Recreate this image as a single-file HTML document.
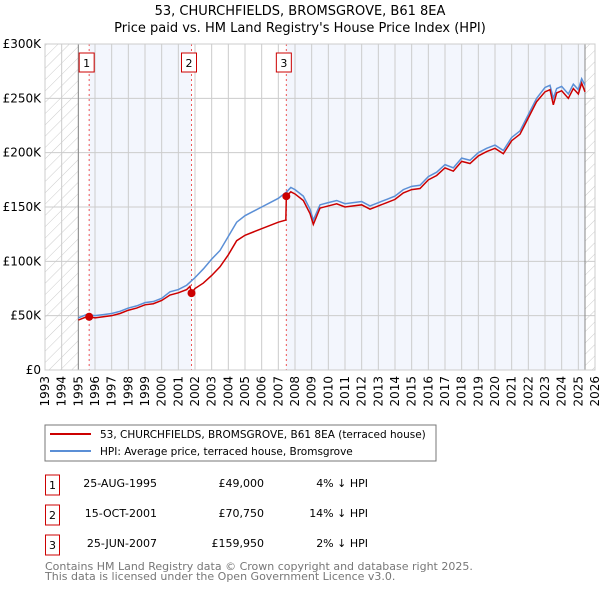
<!DOCTYPE html>
<html><head><meta charset="utf-8"><style>
body{margin:0;background:#fff;font-family:"Liberation Sans","DejaVu Sans",sans-serif;}
svg{display:block}
text{font-family:"DejaVu Sans","Liberation Sans",sans-serif;}
</style></head><body>
<svg id="c" width="600" height="590" viewBox="0 0 600 590">
<defs><pattern id="h" width="8" height="8" patternUnits="userSpaceOnUse" patternTransform="rotate(45)"><line x1="0" y1="0" x2="0" y2="8" stroke="#ccc" stroke-width="1"/></pattern></defs>
<text x="300" y="15" text-anchor="middle" font-size="13">53, CHURCHFIELDS, BROMSGROVE, B61 8EA</text>
<text x="300" y="32" text-anchor="middle" font-size="13">Price paid vs. HM Land Registry's House Price Index (HPI)</text>
<g id="plot"></g>
<rect x="45" y="425" width="391" height="36" fill="#fff" stroke="#777"/>
<line x1="50" y1="434" x2="91" y2="434" stroke="#cc0000" stroke-width="2"/>
<text x="100" y="438" font-size="10.5">53, CHURCHFIELDS, BROMSGROVE, B61 8EA (terraced house)</text>
<line x1="50" y1="451" x2="91" y2="451" stroke="#5b8fd6" stroke-width="2"/>
<text x="100" y="455" font-size="10.5">HPI: Average price, terraced house, Bromsgrove</text>
<g font-size="11">
<rect x="45.5" y="475" width="14" height="20" fill="#fff" stroke="#cc0000"/><text x="52.5" y="489" text-anchor="middle">1</text>
<text x="157" y="487" text-anchor="end">25-AUG-1995</text><text x="264" y="487" text-anchor="end">£49,000</text><text x="368" y="487" text-anchor="end">4% ↓ HPI</text>
<rect x="45.5" y="505" width="14" height="20" fill="#fff" stroke="#cc0000"/><text x="52.5" y="519" text-anchor="middle">2</text>
<text x="157" y="517" text-anchor="end">15-OCT-2001</text><text x="264" y="517" text-anchor="end">£70,750</text><text x="368" y="517" text-anchor="end">14% ↓ HPI</text>
<rect x="45.5" y="535" width="14" height="20" fill="#fff" stroke="#cc0000"/><text x="52.5" y="549" text-anchor="middle">3</text>
<text x="157" y="547" text-anchor="end">25-JUN-2007</text><text x="264" y="547" text-anchor="end">£159,950</text><text x="368" y="547" text-anchor="end">2% ↓ HPI</text>
</g>
<text x="45" y="570" font-size="11" fill="#777">Contains HM Land Registry data © Crown copyright and database right 2025.</text>
<text x="45" y="580" font-size="11" fill="#777">This data is licensed under the Open Government Licence v3.0.</text>
</svg>
<script>
const hpiYears=[1995,1995.5,1996,1996.5,1997,1997.5,1998,1998.5,1999,1999.5,2000,2000.5,2001,2001.5,2002,2002.5,2003,2003.5,2004,2004.5,2005,2005.5,2006,2006.5,2007,2007.5,2007.75,2008,2008.5,2008.9,2009.1,2009.5,2010,2010.5,2011,2011.5,2012,2012.5,2013,2013.5,2014,2014.5,2015,2015.5,2016,2016.5,2017,2017.5,2018,2018.5,2019,2019.5,2020,2020.5,2021,2021.5,2022,2022.5,2023,2023.3,2023.5,2023.7,2024,2024.4,2024.7,2025,2025.2,2025.4];
const hpiValues=[48000,51000,50000,51000,52000,54000,57000,59000,62000,63000,66000,72000,74000,78000,85000,93000,102000,110000,123000,136000,142000,146000,150000,154000,158000,164000,168000,166000,160000,148000,138000,152000,154000,156000,153000,154000,155000,151000,154000,157000,160000,166000,169000,170000,178000,182000,189000,186000,195000,193000,200000,204000,207000,202000,214000,220000,235000,250000,260000,262000,250000,259000,261000,254000,263000,258000,268000,262000];
const priceYears=[1995,1995.5,1995.65,1996,1996.5,1997,1997.5,1998,1998.5,1999,1999.5,2000,2000.5,2001,2001.5,2001.7,2001.79,2002,2002.5,2003,2003.5,2004,2004.5,2005,2005.5,2006,2006.5,2007,2007.45,2007.48,2007.75,2008,2008.5,2008.9,2009.1,2009.5,2010,2010.5,2011,2011.5,2012,2012.5,2013,2013.5,2014,2014.5,2015,2015.5,2016,2016.5,2017,2017.5,2018,2018.5,2019,2019.5,2020,2020.5,2021,2021.5,2022,2022.5,2023,2023.3,2023.5,2023.7,2024,2024.4,2024.7,2025,2025.2,2025.4];
const priceValues=[46000,49000,49000,48000,49000,50000,52000,55000,57000,60000,61000,64000,69000,71000,74000,77000,70750,75000,80000,87000,95000,106000,119000,124000,127000,130000,133000,136000,138000,159950,164000,162000,156000,144000,134000,149000,151000,153000,150000,151000,152000,148000,151000,154000,157000,163000,166000,167000,175000,179000,186000,183000,192000,190000,197000,201000,204000,199000,211000,217000,232000,247000,256000,258000,244000,255000,257000,250000,259000,254000,264000,256000];
const saleYears=[1995.65,2001.79,2007.48];
const saleValues=[49000,70750,159950];
const saleLabels=["1","2","3"];
const yTicks=[0,50000,100000,150000,200000,250000,300000];
const yTickLabels=["£0","£50K","£100K","£150K","£200K","£250K","£300K"];
const xTicks=[1993,1994,1995,1996,1997,1998,1999,2000,2001,2002,2003,2004,2005,2006,2007,2008,2009,2010,2011,2012,2013,2014,2015,2016,2017,2018,2019,2020,2021,2022,2023,2024,2025,2026];

const L=45,R=595,T=44,B=370,X0=1993,X1=2026,YMAX=300000;
const xs=y=>L+(y-X0)/(X1-X0)*(R-L);
const ys=v=>B-v/YMAX*(B-T);
const NS="http://www.w3.org/2000/svg";
const g=document.getElementById('plot');
function mk(tag,at,parent){const e=document.createElementNS(NS,tag);for(const k in at)e.setAttribute(k,at[k]);(parent||g).appendChild(e);return e;}

let e;
e=mk('rect',{x:L,y:T,width:R-L,height:B-T,fill:'#fff'});


e=mk('rect',{x:xs(saleYears[0]),y:T,width:xs(saleYears[1])-xs(saleYears[0]),height:B-T,fill:'#f3f6fd'});


e=mk('rect',{x:xs(saleYears[2]),y:T,width:xs(2025.4)-xs(saleYears[2]),height:B-T,fill:'#f3f6fd'});


e=mk('rect',{x:L,y:T,width:xs(1995)-L,height:B-T,fill:'url(#h)'});


e=mk('rect',{x:xs(2025.4),y:T,width:R-xs(2025.4),height:B-T,fill:'url(#h)'});


xTicks.forEach(t=>{
  e=mk('line',{x1:xs(t),x2:xs(t),y1:T,y2:B,stroke:'#ccc','stroke-width':1});
  
  
  e=mk('text',{x:0,y:0,'font-size':12,'text-anchor':'end',transform:`translate(${xs(t)+4},${B+6}) rotate(-90)`});
  e.textContent=t;
  
  
});
yTicks.forEach((t,i)=>{
  e=mk('line',{x1:L,x2:R,y1:ys(t),y2:ys(t),stroke:'#ccc','stroke-width':1});
  
  
  e=mk('text',{x:L-4,y:ys(t)+4,'font-size':12,'text-anchor':'end'});
  e.textContent=yTickLabels[i];
  
  
});
e=mk('line',{x1:xs(1995),x2:xs(1995),y1:T,y2:B,stroke:'#888'});


e=mk('line',{x1:xs(2025.4),x2:xs(2025.4),y1:T,y2:B,stroke:'#888'});


saleYears.forEach((s,i)=>{
  e=mk('line',{x1:xs(s),x2:xs(s),y1:T,y2:B,stroke:'#e55','stroke-dasharray':'2,3'});
  
  
});
e=mk('polyline',{points:hpiYears.map((y,i)=>xs(y)+','+ys(hpiValues[i])).join(' '),fill:'none',stroke:'#5b8fd6','stroke-width':1.5});


e=mk('polyline',{points:priceYears.map((y,i)=>xs(y)+','+ys(priceValues[i])).join(' '),fill:'none',stroke:'#cc0000','stroke-width':1.5});


saleYears.forEach((s,i)=>{
  e=mk('circle',{cx:xs(s),cy:ys(saleValues[i]),r:4,fill:'#cc0000'});
  
  
  e=mk('rect',{x:xs(s)-10,y:53,width:15,height:19,fill:'#fff',stroke:'#cc0000'});
  
  
  e=mk('text',{x:xs(s)-2.5,y:67,'font-size':11,'text-anchor':'middle'});
  e.textContent=saleLabels[i];
  
  
});
e=mk('rect',{x:L,y:T,width:R-L,height:B-T,fill:'none',stroke:'#ccc'});


</script>
</body></html>
